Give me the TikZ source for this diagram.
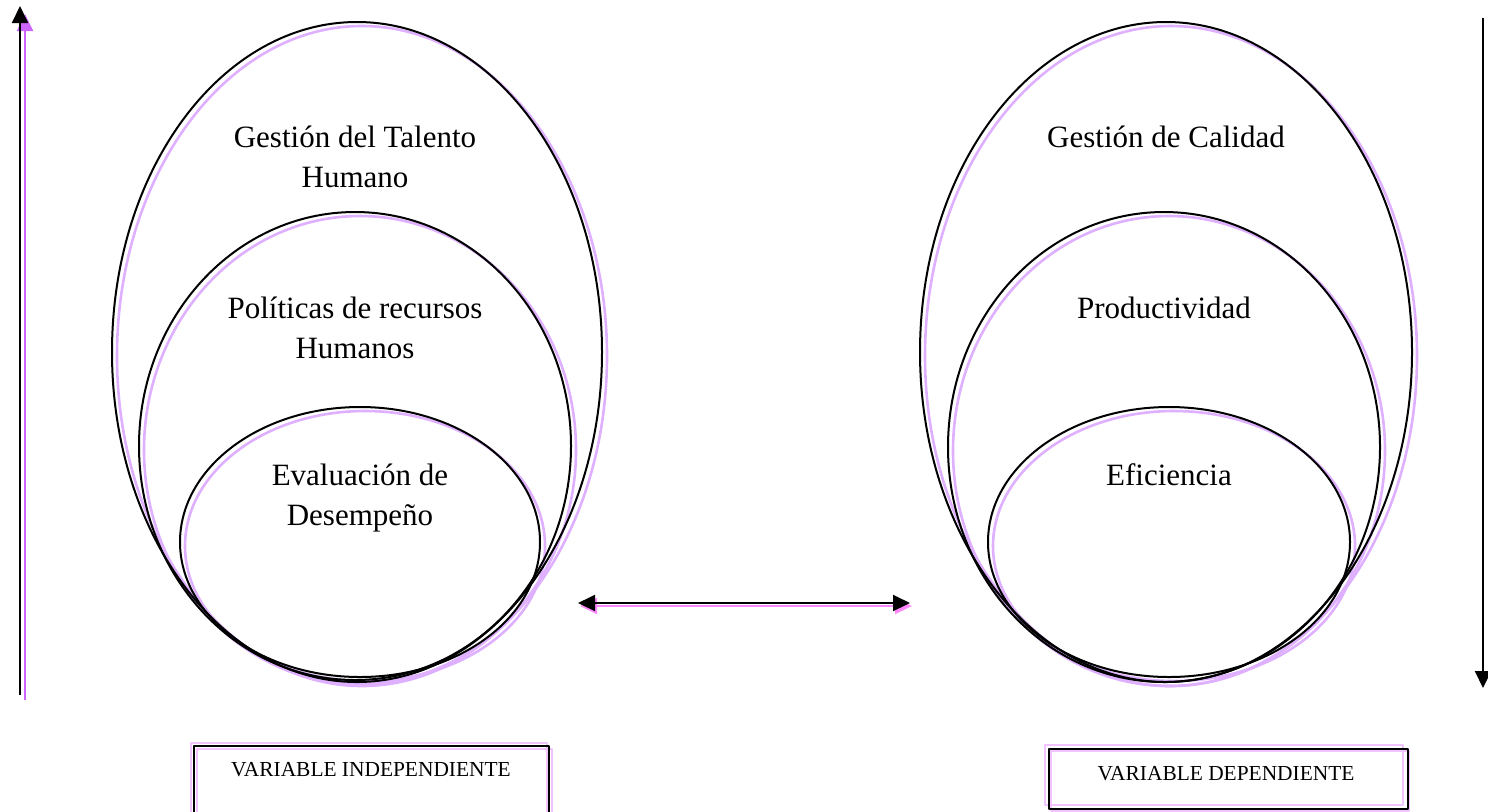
\documentclass[tikz,border=0pt]{standalone}
\usepackage{fontspec}
\setmainfont{Liberation Serif}
\usetikzlibrary{shapes.geometric,arrows.meta}
\definecolor{lila}{HTML}{CC66FF}
\definecolor{lilaclaro}{HTML}{DFB0FF}
\definecolor{rosa}{HTML}{FF88FF}
\definecolor{rosaclaro}{HTML}{F2C4FF}
\begin{document}
\begin{tikzpicture}[x=0.5pt, y=-0.5pt, line join=round, >={Triangle[width=8pt,length=8.5pt]},
	elipse/.style={ellipse, draw, line width=1pt, inner sep=0pt},
	texto/.style={font=\fontsize{15.5}{20}\selectfont, align=center},
	caja/.style={draw, line width=0.9pt, anchor=north west, inner sep=0pt},
	rotulo/.style={font=\fontsize{10.7}{13}\selectfont, anchor=base}]
	\useasboundingbox (0,0) rectangle (1488,811);
	\def\dx{5} \def\dy{4} % desplazamiento de la sombra
	% sombras de las elipses
	\foreach \cx/\cy/\rx/\ry in {357/352/245/330, 355/446/216/234, 360/542/180/135,
		1166/352/246/330, 1164/447/216/235, 1169/542/181/135}
		\draw[lilaclaro, line width=1.3pt] (\cx+\dx,\cy+\dy) ellipse [x radius=\rx, y radius=\ry];
	% variable independiente
	\node[elipse, minimum width=245pt, minimum height=330pt] (talento) at (357,352) {};
	\node[elipse, minimum width=216pt, minimum height=234pt] (politicas) at (355,446) {};
	\node[elipse, minimum width=180pt, minimum height=135pt] (evaluacion) at (360,542) {};
	\node[texto] (t-talento) at (355,157) {Gestión del Talento\\Humano};
	\node[texto] (t-politicas) at (355,328) {Políticas de recursos\\Humanos};
	\node[texto] (t-evaluacion) at (360,498) {Evaluación de\\Desempeño};
	% variable dependiente
	\node[elipse, minimum width=246pt, minimum height=330pt] (calidad) at (1166,352) {};
	\node[elipse, minimum width=216pt, minimum height=235pt] (productividad) at (1164,447) {};
	\node[elipse, minimum width=181pt, minimum height=135pt] (eficiencia) at (1169,542) {};
	\node[texto, anchor=base] (t-calidad) at (1166,147) {Gestión de Calidad};
	\node[texto, anchor=base] (t-productividad) at (1164,318) {Productividad};
	\node[texto, anchor=base] (t-eficiencia) at (1169,485) {Eficiencia};
	% flechas
	\coordinate (izq-a) at (20,695); \coordinate (izq-b) at (20,6);
	\coordinate (der-a) at (1483,18); \coordinate (der-b) at (1483,688);
	\coordinate (rel-a) at (578,603); \coordinate (rel-b) at (910,603);
	\draw[lila, line width=1pt, ->] ([shift={(5,5)}]izq-a) -- ([shift={(5,8)}]izq-b);
	\draw[line width=1pt, ->] (izq-a) -- (izq-b);
	\draw[line width=1.1pt, ->] (der-a) -- (der-b);
	\draw[rosa, line width=1pt, <->] ([shift={(2,3)}]rel-a) -- ([shift={(2,3)}]rel-b);
	\draw[line width=1pt, <->] (rel-a) -- (rel-b);
	% cajas
	\draw[rosaclaro, line width=0.7pt] (191,743) rectangle (547,813);
	\draw[rosaclaro, line width=0.7pt] (197,749) rectangle (552,813);
	\node[caja, minimum width=177.5pt, minimum height=34pt] (caja-ind) at (193,745) {};
	\node[rotulo] (r-ind) at (371,776) {VARIABLE INDEPENDIENTE};
	\draw[rosaclaro, line width=0.7pt] (1045,745) rectangle (1403,805);
	\draw[rosaclaro, line width=0.7pt] (1051,751) rectangle (1409,811);
	\node[caja, minimum width=179.5pt, minimum height=30pt] (caja-dep) at (1048,748) {};
	\node[rotulo] (r-dep) at (1226,780) {VARIABLE DEPENDIENTE};
\end{tikzpicture}
\end{document}
